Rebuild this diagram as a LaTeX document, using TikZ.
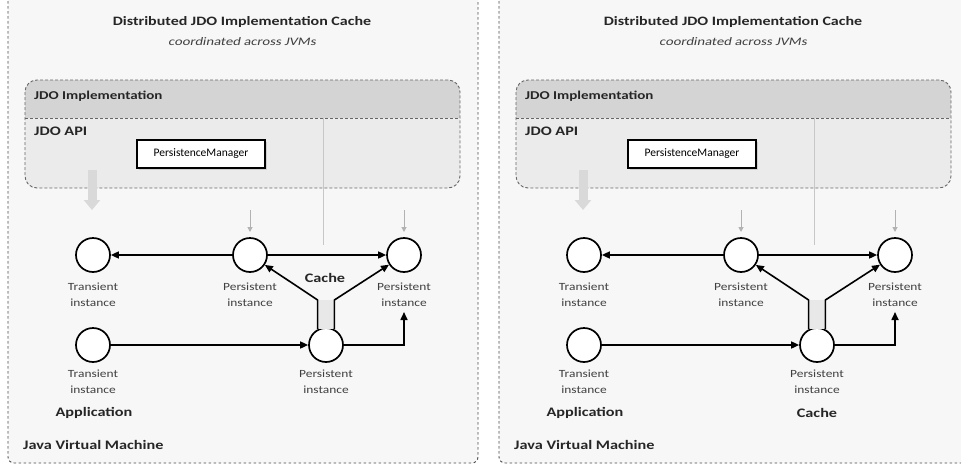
\documentclass[tikz,border=0pt]{standalone}
\usepackage{fontspec}
\setmainfont{Carlito}
\newfontfamily\widefont[FakeStretch=1.25]{Carlito}
\newfontfamily\labfont[FakeStretch=1.22]{Carlito}
\newfontfamily\subfont[FakeStretch=1.28,FakeSlant=0.2]{Carlito}
\usetikzlibrary{arrows.meta,shadows}
\tikzset{
  inst/.style={circle,draw=black,line width=1.7pt,minimum size=34pt,inner sep=0pt,fill=white},
  lbl/.style={font=\labfont\fontsize{11}{16}\selectfont,align=center,text=black!75,inner sep=1pt},
  bold/.style={font=\widefont\bfseries\fontsize{13}{15}\selectfont,text=black!85,inner sep=0pt},
  arr/.style={line width=1.6pt,-{Triangle[length=8pt,width=7pt]}},
  outerbox/.style={draw=black!70,dash pattern=on 2.5pt off 2.5pt,line width=0.9pt,rounded corners=6pt,fill=black!3},
  jdobox/.style={draw=black!60,dash pattern=on 3pt off 2pt,line width=0.9pt,rounded corners=12pt},
  pmbox/.style={draw=black,line width=1.6pt,fill=white,minimum width=128pt,minimum height=28pt,inner sep=0pt,
     font=\fontsize{11.5}{13}\selectfont,drop shadow={shadow xshift=2pt,shadow yshift=-2pt,fill=black!30}},
  faint/.style={draw=black!22,line width=1pt},
  hint/.style={draw=black!30,line width=1pt,-{Triangle[length=5pt,width=5pt]}},
}
\newcommand\jdopanel[2]{%
\begin{scope}[xshift=#2pt]
  \path[outerbox] (8,-10) rectangle (478,463);
  \node[bold,font=\widefont\bfseries\fontsize{12.8}{15}\selectfont] (#1title) at (242,22) {Distributed JDO Implementation Cache};
  \node[font=\subfont\fontsize{11.5}{12}\selectfont,text=black!75,inner sep=0pt] (#1sub) at (242,42) {coordinated across JVMs};
  % JDO implementation box
  \begin{scope}
    \clip[rounded corners=12pt] (25,80) rectangle (460,188);
    \fill[black!17] (25,80) rectangle (460,118);
    \fill[black!8] (25,118) rectangle (460,188);
  \end{scope}
  \draw[jdobox] (25,80) rectangle (460,188);
  \draw[draw=black!60,dash pattern=on 3pt off 2pt,line width=0.9pt] (25,118) -- (460,118);
  \node[bold,anchor=west,font=\widefont\bfseries\fontsize{12}{14}\selectfont] (#1impl) at (34,96) {JDO Implementation};
  \node[bold,anchor=west] (#1api) at (34,131) {JDO API};
  \node[pmbox] (#1pm) at (201,154) {PersistenceManager};
  % faint hints
  \draw[draw=black!15,line width=9pt,-{Triangle[length=10pt,width=16pt]}] (92,170) -- (92,210);
  \draw[faint] (323,118) -- (323,245);
  \draw[hint] (250,210) -- (250,232);
  \draw[hint] (404,210) -- (404,232);
  % instances
  \node[inst] (#1t1) at (93,255) {};
  \node[inst] (#1p1) at (250,255) {};
  \node[inst] (#1p2) at (404,255) {};
  \node[inst] (#1t2) at (93,345) {};
  \node[inst] (#1p3) at (326,345) {};
  \node[lbl,anchor=north] (#1lt1) at ([yshift=-9pt]#1t1.south) {Transient\\instance};
  \node[lbl,anchor=north] (#1lp1) at ([yshift=-9pt]#1p1.south) {Persistent\\instance};
  \node[lbl,anchor=north] (#1lp2) at ([yshift=-9pt]#1p2.south) {Persistent\\instance};
  \node[lbl,anchor=north] (#1lt2) at ([yshift=-6pt]#1t2.south) {Transient\\instance};
  \node[lbl,anchor=north] (#1lp3) at ([yshift=-6pt]#1p3.south) {Persistent\\instance};
  \node[bold] (#1app) at (94,413) {Application};
  \node[bold,anchor=west] (#1jvm) at (23,445) {Java Virtual Machine};
  % connectors
  \coordinate (#1fl) at (317,300);
  \coordinate (#1fr) at (334,300);
  \coordinate (#1up) at (404,312);
  \fill[black!9] ([xshift=1pt]#1p3.118 |- #1fl) rectangle ([xshift=-1pt]#1p3.62);
  \draw[arr] (#1p1) -- (#1t1);
  \draw[arr] (#1p1) -- (#1p2);
  \draw[arr] (#1t2) -- (#1p3);
  \draw[arr] (#1p3) -| (#1up);
  \draw[arr,line join=round] (#1p3.118) -- (#1p3.118 |- #1fl) -- (#1p1);
  \draw[arr,line join=round] (#1p3.62) -- (#1p3.62 |- #1fr) -- (#1p2);
\end{scope}}
\begin{document}
\begin{tikzpicture}[x=1pt,y=-1pt]
  \useasboundingbox (0,0) rectangle (961,466);
  \fill[white] (0,0) rectangle (961,466);
  \jdopanel{L}{0}
  \jdopanel{R}{491}
  \node[bold] (Lcache) at (325,278) {Cache};
  \node[bold] (Rcache) at (817,413) {Cache};
\end{tikzpicture}
\end{document}
